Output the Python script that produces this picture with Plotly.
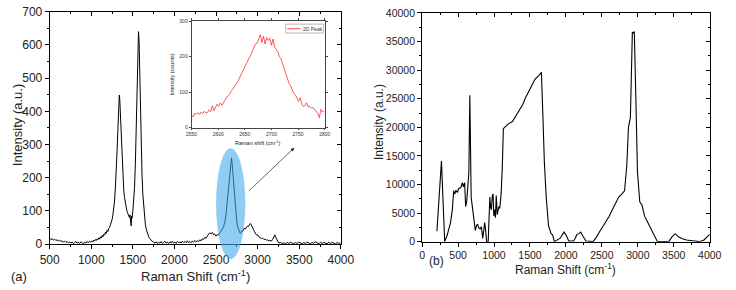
import plotly.graph_objects as go

# ---------------- data: panel (a) main spectrum ----------------
a_x = [500, 515, 530, 545, 560, 575, 590, 605, 620, 635, 650, 665, 680, 695, 710, 725, 740, 755, 770, 785,
       800, 815, 830, 845, 860, 875, 890, 905, 920, 935, 950, 965, 980, 995,
       1010, 1020, 1030, 1040, 1050, 1060, 1070, 1080, 1090, 1100, 1110, 1120, 1130, 1140, 1150, 1160,
       1170, 1180, 1190, 1200, 1210, 1220, 1230, 1240, 1250, 1260,
       1270, 1280, 1290, 1300, 1310, 1320, 1330, 1337, 1342, 1350, 1360, 1370, 1380, 1390, 1400, 1410,
       1420, 1430, 1440, 1450, 1460, 1465, 1470, 1475, 1480, 1485, 1490, 1500, 1510, 1520, 1530, 1540,
       1550, 1560, 1568, 1575, 1582, 1590, 1600, 1610, 1620, 1630, 1640, 1650, 1660, 1670, 1680, 1690,
       1700, 1710, 1720, 1735, 1750,
       1765, 1780, 1795, 1810, 1825, 1840, 1855, 1870, 1885, 1900, 1915, 1930, 1945, 1960, 1975, 1990,
       2005, 2020, 2035, 2050, 2065, 2080, 2095, 2110, 2125, 2140, 2155, 2170, 2185, 2200, 2215, 2230,
       2245, 2260, 2275, 2290,
       2305, 2320, 2335, 2350, 2365, 2380, 2395, 2410, 2425, 2440, 2455, 2470, 2485, 2500, 2515, 2530,
       2545, 2560, 2575, 2590, 2600, 2610, 2620, 2630, 2640, 2650, 2660, 2670, 2678, 2686, 2692, 2700,
       2710, 2720, 2730, 2740, 2750, 2760, 2770, 2780, 2790, 2800, 2810, 2820, 2830, 2840, 2850, 2860,
       2870, 2880, 2890, 2900, 2910, 2920, 2930, 2940, 2950, 2960, 2970, 2980, 2990, 3000, 3015, 3030,
       3045, 3060, 3075, 3090, 3105, 3120, 3135, 3150, 3165, 3180, 3190, 3200, 3208, 3215, 3225, 3235,
       3245, 3255,
       3275, 3295, 3315, 3335, 3355, 3375, 3395, 3415, 3435, 3455, 3475, 3495, 3515, 3535, 3555, 3575,
       3595, 3615, 3635, 3655, 3675, 3695, 3715, 3735, 3755, 3775, 3795, 3815, 3835, 3855, 3875, 3895,
       3915, 3935, 3955, 3975, 3995]
a_y = [18, 14, 16, 12, 15, 11, 13, 9, 12, 8, 10, 6, 9, 5, 8, 4, 7, 3, 6, 2,
       5, 8, 3, 6, 2, 7, 4, 1, 6, 3, 8, 4, 9, 6,
       10, 7, 12, 9, 14, 11, 16, 13, 19, 15, 22, 18, 26, 22, 30, 27,
       36, 32, 42, 38, 48, 50, 58, 64, 74, 88,
       105, 130, 170, 215, 280, 345, 420, 449, 440, 395, 320, 255, 200, 165, 140, 120,
       108, 98, 92, 85, 80, 88, 76, 82, 55, 84, 78, 100, 125, 170, 240, 330,
       450, 580, 640, 610, 520, 400, 290, 210, 150, 110, 80, 60, 46, 36, 28, 22,
       18, 14, 11, 8, 6,
       3, 7, 2, 6, 3, 8, 2, 5, 9, 3, 6, 2, 7, 4, 9, 3,
       6, 2, 8, 4, 7, 3, 9, 5, 8, 4, 10, 5, 8, 4, 9, 6,
       11, 7, 10, 8,
       13, 10, 16, 14, 20, 18, 26, 30, 34, 31, 35, 28, 30, 24, 29, 27,
       34, 38, 45, 52, 60, 72, 90, 115, 140, 165, 195, 228, 250, 260, 245, 220,
       185, 145, 110, 85, 65, 52, 45, 38, 32, 34, 40, 38, 44, 48, 45, 50,
       52, 55, 53, 58, 62, 60, 56, 48, 44, 38, 32, 30, 26, 28, 22, 20,
       17, 18, 14, 15, 12, 13, 10, 11, 9, 14, 18, 24, 28, 22, 16, 10,
       6, 4,
       5, 2, 4, 1, 5, 2, 6, 3, 1, 5, 2, 6, 3, 1, 5, 2,
       6, 3, 1, 5, 2, 7, 3, 1, 6, 2, 5, 3, 1, 6, 2, 5,
       3, 1, 5, 2, 4]

# ---------------- data: inset (2D peak) ----------------
inset_x = list(range(2550, 2800, 3))
inset_y = [35, 30, 40, 38, 42, 37, 44, 40, 46, 41, 43, 50, 45, 62, 48, 58, 66, 60, 70, 63,
           72, 80, 86, 90, 95, 104, 110, 116, 122, 130, 140, 150, 160, 168, 178, 186, 196, 204, 214, 228,
           236, 238, 252, 262, 240, 258, 236, 254, 246, 252, 232, 250, 228, 222, 214, 200, 194, 180, 165, 150,
           138, 125, 118, 105, 96, 92, 82, 74, 84, 66, 60, 62, 70, 58, 60, 55, 57, 52, 48, 40,
           28, 52, 44, 47]
inset_name = "2D Peak"

# ---------------- data: panel (b) ----------------
b_x = [206, 269, 314, 350, 395, 420, 439, 455, 470, 490, 510, 538, 560, 575, 592, 605, 620, 637, 650, 664,
       672, 682, 700, 717, 740, 755, 771, 790, 807, 825, 843, 858, 870, 885, 897, 919, 930, 942, 953, 964,
       976, 987, 998, 1009, 1020, 1031, 1045, 1056, 1067, 1080, 1099, 1115, 1130, 1152, 1200, 1256, 1300, 1345, 1400, 1435,
       1500, 1569, 1620, 1659, 1680, 1700, 1726, 1758, 1794, 1815, 1839, 1874, 1920, 1973, 2000, 2040, 2107, 2130, 2152, 2180,
       2206, 2240, 2278, 2377, 2420, 2466, 2510, 2556, 2600, 2645, 2690, 2735, 2780, 2816, 2847, 2870, 2897, 2910, 2924, 2935,
       2951, 2968, 2995, 3027, 3058, 3075, 3094, 3139, 3184, 3228, 3273, 3430, 3475, 3520, 3565, 3620, 3677, 3760, 3856, 3920,
       4000]
b_y = [1840, 14090, 0, 1200, 3340, 5500, 8900, 8300, 9000, 8600, 9300, 9470, 10300, 9600, 10300, 6130, 7000, 10000, 12000, 25600,
       14000, 7800, 6000, 4460, 1950, 2800, 3060, 2400, 2230, 2600, 560, 2000, 3340, 1800, 0, 0, 4000, 7800, 6000, 5570,
       8000, 8360, 4500, 5570, 4200, 8080, 4730, 5500, 6130, 5800, 8360, 13000, 19770, 20050, 20600, 21000, 21900, 22840, 24000, 25070,
       26700, 28400, 29000, 29630, 22000, 14000, 7800, 2790, 1390, 1200, 0, 280, 600, 1670, 1200, 110, 110, 600, 1230, 1400,
       1670, 900, 110, 0, 700, 1670, 2500, 3340, 4400, 5570, 6700, 7800, 8360, 8900, 13370, 20050, 21700, 30000, 36650, 36500,
       36760, 27850, 12250, 6960, 6400, 5500, 4460, 3340, 2230, 1110, 0, 0, 835, 1390, 835, 500, 280, 150, 0, 300,
       1280]

a_xrange = [500, 4000]
a_yrange = [0, 700]
b_xrange = [0, 4000]
b_yrange = [0, 40000]
inset_xrange = [2550, 2800]
inset_yrange = [0, 300]

W, H = 736, 290
a_dx = [41 / W, 342 / W]
a_dy = [(H - 249.3) / H, (H - 6) / H]
b_dx = [426 / W, 723.3 / W]
b_dy = [(H - 246.7) / H, (H - 7.3) / H]
i_dx = [187.7 / W, 325.3 / W]
i_dy = [(H - 127.3) / H, (H - 16) / H]


def a_to_paper(x, y):
    px = a_dx[0] + (x - a_xrange[0]) / (a_xrange[1] - a_xrange[0]) * (a_dx[1] - a_dx[0])
    py = a_dy[0] + (y - a_yrange[0]) / (a_yrange[1] - a_yrange[0]) * (a_dy[1] - a_dy[0])
    return px, py


FONT = "Liberation Sans, Arial, sans-serif"

fig = go.Figure()
fig.add_trace(go.Scatter(x=a_x, y=a_y, mode="lines", line=dict(color="black", width=1),
                         xaxis="x", yaxis="y", showlegend=False))
fig.add_trace(go.Scatter(x=b_x, y=b_y, mode="lines", line=dict(color="black", width=1.1),
                         xaxis="x2", yaxis="y2", showlegend=False))
fig.add_trace(go.Scatter(x=inset_x, y=inset_y, mode="lines", line=dict(color="#ff3030", width=0.8),
                         xaxis="x3", yaxis="y3", name=inset_name, showlegend=False))
# invisible traces so the mirror (top/right) axes get drawn
for xa, ya in [("x4", "y"), ("x", "y4"), ("x5", "y2"), ("x2", "y5")]:
    fig.add_trace(go.Scatter(x=[None], y=[None], xaxis=xa, yaxis=ya, showlegend=False, hoverinfo="skip"))


def main_axis(domain, rng, dtick, minor, anchor, size):
    return dict(domain=domain, range=rng, dtick=dtick, tick0=0, ticks="outside", ticklen=4,
                tickcolor="black", tickwidth=1, showline=True, linecolor="black", linewidth=1,
                showgrid=False, zeroline=False, anchor=anchor, tickformat="d",
                minor=dict(ticks="outside", dtick=minor, ticklen=2, tickcolor="black", showgrid=False),
                tickfont=dict(family=FONT, size=size, color="#222"))


def mirror_axis(over, side, rng, dtick, minor, anchor):
    return dict(overlaying=over, side=side, range=rng, dtick=dtick, tick0=0, ticks="inside", ticklen=4,
                tickcolor="black", tickwidth=1, showline=True, linecolor="black", linewidth=1,
                showgrid=False, zeroline=False, anchor=anchor, showticklabels=False,
                minor=dict(ticks="inside", dtick=minor, ticklen=2, tickcolor="black", showgrid=False))


lay = dict(
    width=W, height=H, autosize=False,
    margin=dict(l=0, r=0, t=0, b=0, pad=0),
    paper_bgcolor="white", plot_bgcolor="white",
    font=dict(family=FONT, color="#222"),
    xaxis=main_axis(a_dx, a_xrange, 500, 250, "y", 12),
    yaxis=main_axis(a_dy, a_yrange, 100, 50, "x", 12),
    xaxis2=main_axis(b_dx, b_xrange, 500, 250, "y2", 10.5),
    yaxis2=main_axis(b_dy, b_yrange, 5000, 2500, "x2", 10.5),
    xaxis4=mirror_axis("x", "top", a_xrange, 500, 250, "y"),
    yaxis4=mirror_axis("y", "right", a_yrange, 100, 50, "x"),
    xaxis5=mirror_axis("x2", "top", b_xrange, 500, 250, "y2"),
    yaxis5=mirror_axis("y2", "right", b_yrange, 5000, 2500, "x2"),
    xaxis3=dict(domain=i_dx, range=inset_xrange, dtick=50, tick0=2550, ticks="outside", ticklen=2,
                tickcolor="#444", tickwidth=0.6, showline=True, mirror="ticks", linecolor="#444", linewidth=0.8,
                showgrid=False, zeroline=False, anchor="y3",
                tickfont=dict(family=FONT, size=5, color="#333")),
    yaxis3=dict(domain=i_dy, range=inset_yrange, dtick=100, tick0=0, ticks="outside", ticklen=2,
                tickcolor="#444", tickwidth=0.6, showline=True, mirror="ticks", linecolor="#444", linewidth=0.8,
                showgrid=False, zeroline=False, anchor="x3",
                tickfont=dict(family=FONT, size=5, color="#333")),
    showlegend=False,
)
fig.update_layout(**lay)

# inset legend box (drawn manually to match the small Origin-style legend)
lx0, lx1 = 285 / W, 324 / W
ly0, ly1 = (H - 28.3) / H, (H - 19) / H
fig.add_shape(type="rect", xref="paper", yref="paper", x0=lx0, x1=lx1, y0=ly0, y1=ly1,
              line=dict(color="#888", width=0.6), fillcolor="white", layer="above")
fig.add_shape(type="line", xref="paper", yref="paper", x0=286.5 / W, x1=300.5 / W,
              y0=(H - 23.8) / H, y1=(H - 23.8) / H, line=dict(color="#ff3030", width=0.9), layer="above")
fig.add_annotation(text=inset_name, x=301.5 / W, y=(H - 23.8) / H, xref="paper", yref="paper",
                   showarrow=False, xanchor="left", yanchor="middle", borderpad=0,
                   font=dict(family=FONT, size=5, color="#333"))

# ellipse highlighting the 2D peak
ex0, ey0 = a_to_paper(2500, -45)
ex1, ey1 = a_to_paper(2852, 289)
fig.add_shape(type="circle", xref="paper", yref="paper", x0=ex0, x1=ex1, y0=ey0, y1=ey1,
              fillcolor="rgba(70,170,235,0.6)", line=dict(width=0), layer="above")

# arrow to inset
fig.add_annotation(x=3440, y=290, ax=2880, ay=157, xref="x", yref="y", axref="x", ayref="y",
                   showarrow=True, arrowhead=2, arrowsize=1, arrowwidth=0.7, arrowcolor="#222", text="")

ann = [
    dict(text="Raman Shift (cm<sup>-1</sup>)", x=191.5 / W, y=(H - 283) / H, size=13, angle=0),
    dict(text="Intensity (a.u.)", x=8 / W, y=(H - 125) / H, size=13, angle=-90),
    dict(text="Raman Shift (cm<sup>-1</sup>)", x=574 / W, y=(H - 275) / H, size=12, angle=0),
    dict(text="Intensity (a.u.)", x=381 / W, y=(H - 122) / H, size=12, angle=-90),
    dict(text="Raman shift (cm<sup>-1</sup>)", x=256 / W, y=(H - 143) / H, size=5.5, angle=0),
    dict(text="Intensity (counts)", x=167 / W, y=(H - 72) / H, size=5.5, angle=-90),
    dict(text="(a)", x=9 / W, y=(H - 283) / H, size=13, angle=0),
    dict(text="(b)", x=441 / W, y=(H - 267) / H, size=12, angle=0),
]
for a in ann:
    fig.add_annotation(text=a["text"], x=a["x"], y=a["y"], xref="paper", yref="paper",
                       showarrow=False, textangle=a["angle"], xanchor="center", yanchor="middle",
                       font=dict(family=FONT, size=a["size"], color="#222"))

fig.write_html("out.html")
